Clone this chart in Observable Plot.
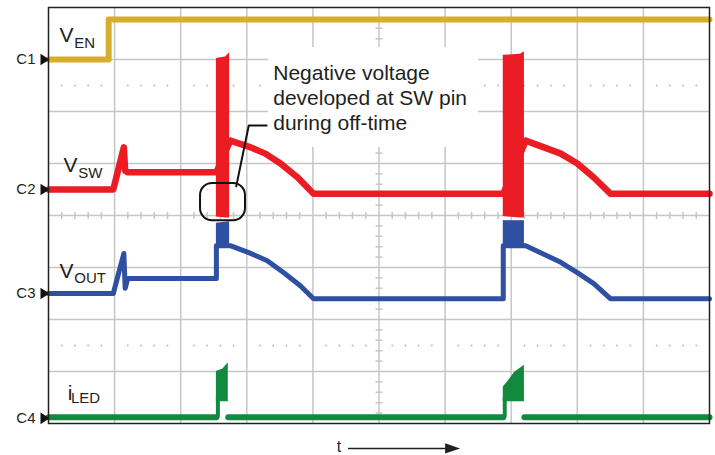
<!DOCTYPE html>
<html><head><meta charset="utf-8">
<script src="https://cdn.jsdelivr.net/npm/d3@7"></script>
<script src="https://cdn.jsdelivr.net/npm/@observablehq/plot@0.6"></script>
<style>body{margin:0;background:#fff;}</style>
</head><body><div id="chart"></div>
<script>
// Values in scope divisions: t = horizontal division (0..10), v = vertical division (-4..4, 0 = centre)
const enTrace = [[0,3.0],[0.91,3.0],[0.91,3.77],[10,3.77]];
const swTrace = [[0,0.5],[0.98,0.5],[1.14,1.31],[1.16,0.86],[1.2,0.83],[2.54,0.83],[2.75,1.44],
  [3.06,1.31],[3.28,1.19],[3.51,1.0],[3.77,0.73],[4.01,0.42],[6.88,0.42],[7.22,1.44],
  [7.75,1.19],[8.0,1.0],[8.25,0.73],[8.5,0.42],[10,0.42]];
const swBursts = [
  {id:1,t:2.54,lo:-0.03,hi:3.02},{id:1,t:2.68,lo:-0.05,hi:3.05},{id:1,t:2.74,lo:-0.05,hi:3.13},
  {id:2,t:6.88,lo:-0.02,hi:3.08},{id:2,t:7.14,lo:-0.05,hi:3.1},{id:2,t:7.2,lo:-0.05,hi:3.15}];
const outTrace = [[0,-1.5],[0.98,-1.5],[1.14,-0.73],[1.16,-1.4],[1.2,-1.21],[2.54,-1.21],[2.54,-0.58],
  [2.75,-0.58],[3.06,-0.73],[3.31,-0.87],[3.56,-1.10],[3.81,-1.35],[4.01,-1.60],[6.88,-1.60],
  [6.88,-0.58],[7.22,-0.58],[7.75,-0.9],[8.0,-1.10],[8.25,-1.31],[8.5,-1.60],[10,-1.60]];
const outBursts = [
  {id:1,t:2.54,lo:-0.58,hi:-0.15},{id:1,t:2.74,lo:-0.58,hi:-0.12},
  {id:2,t:6.88,lo:-0.6,hi:-0.1},{id:2,t:7.2,lo:-0.6,hi:-0.1}];
const ledBaseline = [
  {id:1,t:0,v:-3.88},{id:1,t:2.54,v:-3.88},
  {id:2,t:2.72,v:-3.88},{id:2,t:6.88,v:-3.88},
  {id:3,t:7.2,v:-3.88},{id:3,t:10,v:-3.88}];
const ledPulses = [
  {id:1,t:2.54,lo:-3.58,hi:-3.0},{id:1,t:2.64,lo:-3.58,hi:-2.95},{id:1,t:2.72,lo:-3.58,hi:-2.83},
  {id:2,t:6.88,lo:-3.58,hi:-3.3},{id:2,t:6.96,lo:-3.58,hi:-3.18},{id:2,t:7.05,lo:-3.58,hi:-3.02},{id:2,t:7.2,lo:-3.58,hi:-2.88},
  {id:3,t:2.54,lo:-3.88,hi:-3.5},{id:3,t:2.60,lo:-3.88,hi:-3.5},
  {id:4,t:6.88,lo:-3.88,hi:-3.5},{id:4,t:6.94,lo:-3.88,hi:-3.5}];

const channelNames = ["C1","C2","C3","C4"];
const channelLevels = [3.0,0.5,-1.5,-3.9];

const labelMain = [{s:"V",t:0.166,v:3.33},{s:"V",t:0.227,v:0.83},{s:"V",t:0.166,v:-1.21},{s:"i",t:0.29,v:-3.54}];
const labelSub  = [{s:"EN",t:0.39,v:3.23},{s:"SW",t:0.45,v:0.73},{s:"OUT",t:0.39,v:-1.29},{s:"LED",t:0.34,v:-3.6}];

const noteLines = ["Negative voltage","developed at SW pin","during off-time"];
const noteBaselines = [2.60,2.12,1.65];
const noteBox = {x1:3.33,x2:6.505,y1:1.31,y2:3.23};
const callout = {x1:2.30,x2:2.98,y1:-0.10,y2:0.615};
const leader = [[2.84,0.56],[3.03,1.73],[3.30,1.73]];
const timeArrow = [[4.54,-4.48],[6.0,-4.48]];

// grid structure
const majorT = d3.range(1,10), majorV = d3.range(-3,4);
const minorT = d3.range(1,50).map(i=>i/5).filter(x=>Math.abs(x-Math.round(x))>1e-6);
const minorV = d3.range(-19,20).map(i=>i/5).filter(x=>Math.abs(x-Math.round(x))>1e-6);
const dotted = [2.5,-2.5].flatMap(v=>minorT.map(t=>({t,v})));

const vTick = {draw(c,size){const h=Math.sqrt(size/Math.PI);c.moveTo(0,-h);c.lineTo(0,h);}};
const hTick = {draw(c,size){const h=Math.sqrt(size/Math.PI);c.moveTo(-h,0);c.lineTo(h,0);}};
const triRight = {draw(c,size){const s=Math.sqrt(size/Math.PI);c.moveTo(s,0);c.lineTo(-s,-1.3*s);c.lineTo(-s,1.3*s);c.closePath();}};
const arrowHead = {draw(c,size){const s=Math.sqrt(size/Math.PI);c.moveTo(s,0);c.lineTo(-s,-0.68*s);c.lineTo(-s,0.68*s);c.closePath();}};

const X = d=>d[0], Y = d=>d[1];
const font = "Liberation Sans, Arial, Helvetica, sans-serif";
const ink = "#231f20";
const gridC = "#c6c6c6";

const chart = Plot.plot({
  width:715, height:455, marginLeft:48, marginRight:6, marginTop:7, marginBottom:32,
  x:{domain:[0,10], axis:null}, y:{domain:[-4,4], axis:null},
  style:{fontFamily:font, background:"white", overflow:"visible"},
  marks:[
    Plot.ruleX(majorT, {stroke:gridC, strokeWidth:1.5}),
    Plot.ruleY(majorV, {stroke:gridC, strokeWidth:1.5}),
    Plot.dot(dotted, {x:"t", y:"v", r:0.9, fill:"#b5b5b5", stroke:"none"}),
    Plot.dot(minorT, {x:d=>d, y:0, r:3.5, symbol:vTick, stroke:gridC, strokeWidth:1.5, fill:"none"}),
    Plot.dot(minorV, {x:5, y:d=>d, r:3.5, symbol:hTick, stroke:gridC, strokeWidth:1.5, fill:"none"}),
    Plot.rect([noteBox], {x1:"x1", x2:"x2", y1:"y1", y2:"y2", fill:"white"}),
    Plot.line(enTrace, {x:X, y:Y, stroke:"#d5ae2d", strokeWidth:6}),
    Plot.line(outTrace, {x:X, y:Y, stroke:"#2e4fa2", strokeWidth:5}),
    Plot.areaY(outBursts, {x:"t", y1:"lo", y2:"hi", z:"id", fill:"#2e4fa2"}),
    Plot.line(swTrace, {x:X, y:Y, stroke:"#ec1c24", strokeWidth:6.5}),
    Plot.areaY(swBursts, {x:"t", y1:"lo", y2:"hi", z:"id", fill:"#ec1c24"}),
    Plot.line(ledBaseline, {x:"t", y:"v", z:"id", stroke:"#118a3e", strokeWidth:6}),
    Plot.areaY(ledPulses, {x:"t", y1:"lo", y2:"hi", z:"id", fill:"#118a3e"}),
    Plot.text(labelMain, {x:"t", y:"v", text:"s", textAnchor:"start", lineAnchor:"bottom", fontSize:21, fill:ink}),
    Plot.text(labelSub, {x:"t", y:"v", text:"s", textAnchor:"start", lineAnchor:"bottom", fontSize:15, fill:ink}),
    Plot.text(noteLines, {x:3.40, y:(d,i)=>noteBaselines[i], text:d=>d, textAnchor:"start", lineAnchor:"bottom", fontSize:21, fill:ink}),
    Plot.rect([callout], {x1:"x1", x2:"x2", y1:"y1", y2:"y2", rx:12, fill:"none", stroke:"#111", strokeWidth:2}),
    Plot.line(leader, {x:X, y:Y, stroke:"#111", strokeWidth:2}),
    Plot.text(channelNames, {x:0, y:(d,i)=>channelLevels[i], text:d=>d, dx:-13, textAnchor:"end", fontSize:15, fill:ink}),
    Plot.dot(channelLevels, {x:0, y:d=>d, r:4.5, dx:-3.5, symbol:triRight, fill:"#111", stroke:"none"}),
    Plot.text(["t"], {x:4.36, y:-4.54, text:d=>d, textAnchor:"start", lineAnchor:"bottom", fontSize:16, fill:ink}),
    Plot.line(timeArrow, {x:X, y:Y, stroke:ink, strokeWidth:1.5}),
    Plot.dot([timeArrow[1]], {x:X, y:Y, r:7.5, dx:7.5, symbol:arrowHead, fill:ink, stroke:"none"}),
    Plot.frame({stroke:"#222", strokeWidth:1.5})
  ]
});
document.getElementById("chart").appendChild(chart);
</script>
</body></html>
